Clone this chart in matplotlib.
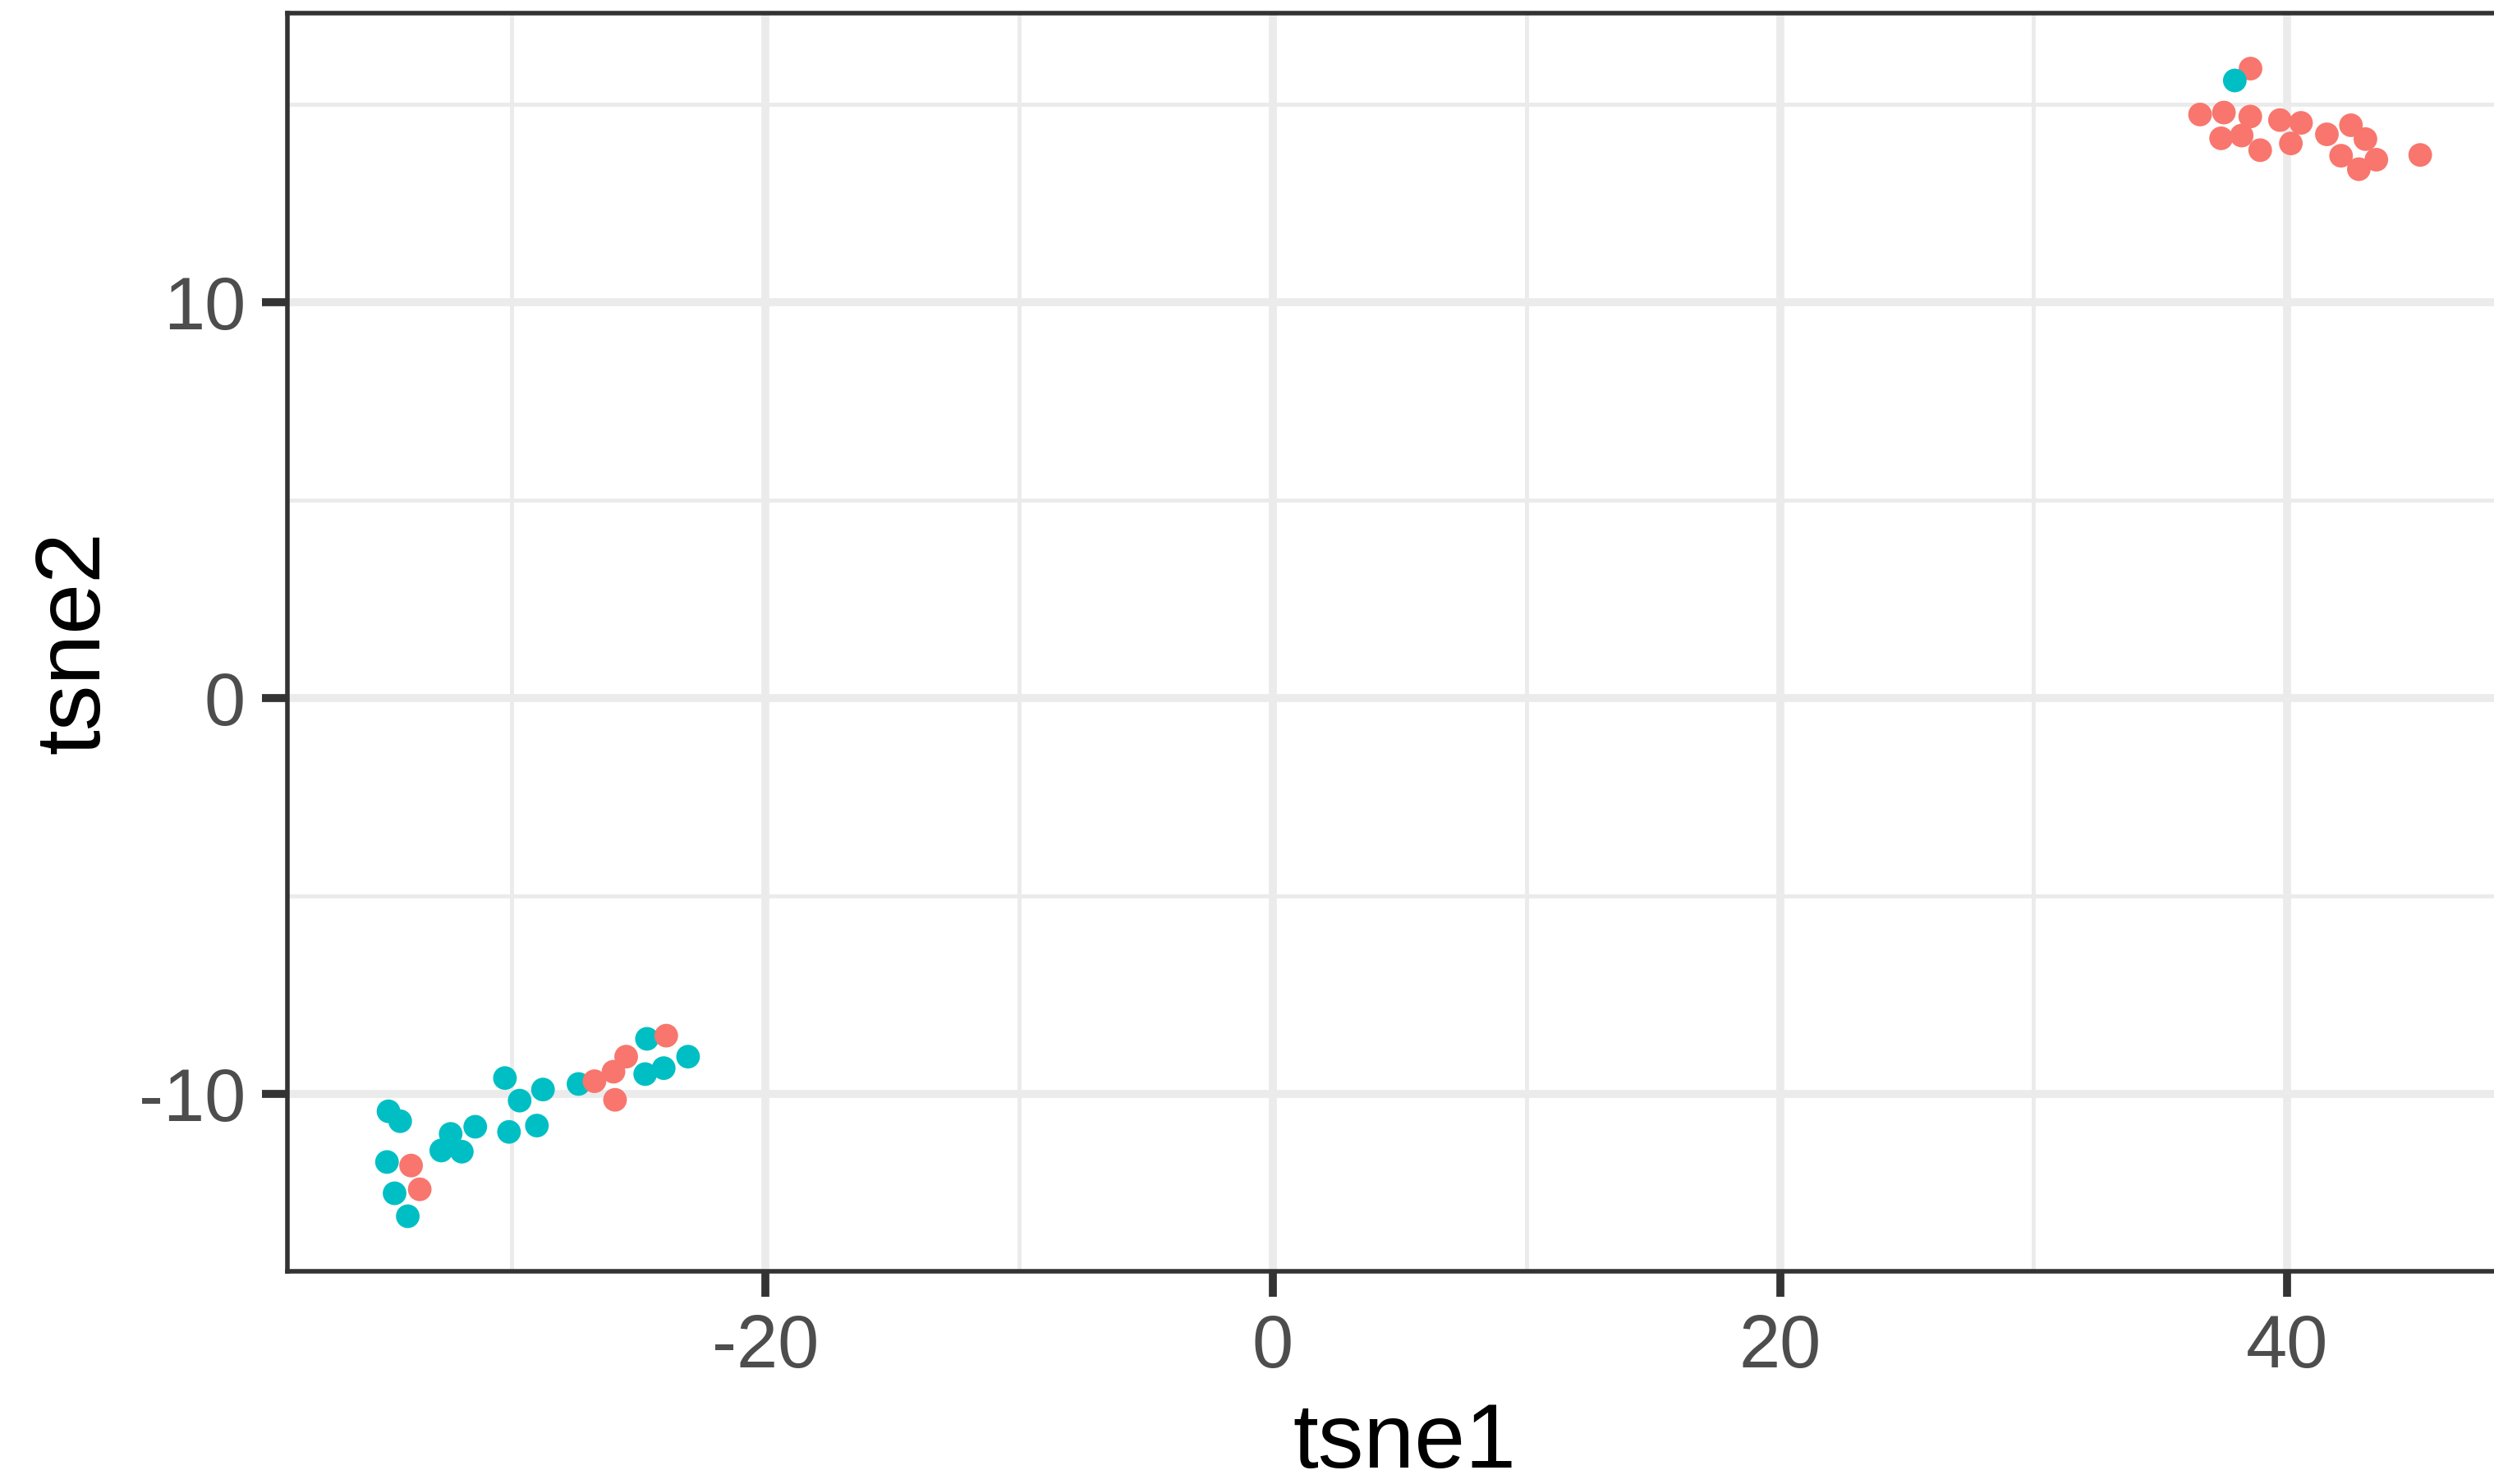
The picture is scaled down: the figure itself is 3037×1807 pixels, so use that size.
import matplotlib
matplotlib.use("Agg")
import matplotlib.pyplot as plt
from matplotlib.ticker import MultipleLocator
import numpy as np

plt.rcParams['font.family'] = ['Liberation Sans', 'DejaVu Sans']
plt.rcParams['axes.unicode_minus'] = False

# points, in drawing order
tsne1 = [-34.86, -34.40, -34.92, -34.62, -34.10, -32.41, -32.78, -31.97, -31.44,
         -30.27, -29.69, -28.77, -30.11, -29.01, -27.37, -24.67, -24.74, -24.01,
         -23.05,
         -33.97, -33.63, -26.74, -25.99, -25.49, -25.93, -23.91,
         38.55, 36.56, 37.50, 38.54, 37.39, 38.20, 38.93, 39.71, 40.54, 40.14,
         41.56, 42.51, 43.08, 42.12, 42.82, 43.51, 45.24,
         37.93]
tsne2 = [-10.43, -10.68, -11.71, -12.50, -13.08, -11.00, -11.42, -11.45, -10.82,
         -9.59, -10.16, -9.88, -10.95, -10.79, -9.74, -8.60, -9.49, -9.34,
         -9.05,
         -11.80, -12.40, -9.67, -9.43, -9.05, -10.14, -8.52,
         15.90, 14.74, 14.79, 14.69, 14.14, 14.21, 13.84, 14.60, 14.53, 14.01,
         14.24, 14.47, 14.12, 13.70, 13.36, 13.60, 13.72,
         15.60]
group = ["b"] * 19 + ["a"] * 7 + ["a"] * 17 + ["b"]

palette = {"a": "#F8766D", "b": "#00BFC4"}

fig = plt.figure(figsize=(30.37, 18.07), dpi=100)
ax = fig.add_axes([0.1154, 0.1436, 1.0112 - 0.1154, 0.9914 - 0.1436])

ax.scatter(tsne1, tsne2, c=[palette[g] for g in group], s=430,
           linewidths=0, zorder=3)

ax.set_xlim(-38.83, 49.25)
ax.set_ylim(-14.46, 17.31)

ax.xaxis.set_major_locator(MultipleLocator(20))
ax.xaxis.set_minor_locator(MultipleLocator(10))
ax.yaxis.set_major_locator(MultipleLocator(10))
ax.yaxis.set_minor_locator(MultipleLocator(5))

ax.grid(which="major", color="#EBEBEB", linewidth=7)
ax.grid(which="minor", color="#EBEBEB", linewidth=3.5)
ax.set_axisbelow(True)

for s in ax.spines.values():
    s.set_color("#333333")
    s.set_linewidth(4)

ax.tick_params(which="major", length=22, width=7, color="#333333",
               labelsize=65, labelcolor="#4D4D4D", pad=15)
ax.tick_params(which="minor", length=0)

ax.set_xlabel("tsne1", fontsize=80, color="black", labelpad=16)
ax.set_ylabel("tsne2", fontsize=80, color="black", labelpad=18)

fig.savefig("out.png", dpi=100)
